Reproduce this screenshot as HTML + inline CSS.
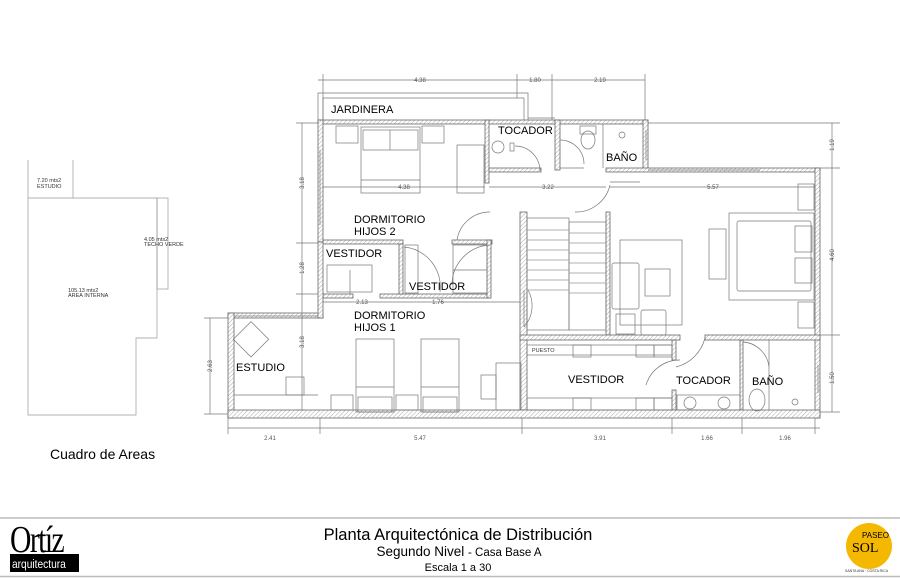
<!DOCTYPE html>
<html><head><meta charset="utf-8"><style>
html,body{margin:0;padding:0;background:#fff}
svg{display:block;font-family:"Liberation Sans",sans-serif}
</style></head><body>
<svg width="900" height="578" viewBox="0 0 900 578" xmlns="http://www.w3.org/2000/svg">
<defs>
<pattern id="h" width="3" height="3" patternUnits="userSpaceOnUse" patternTransform="rotate(45)">
<rect width="3" height="3" fill="#fff"/><line x1="0" y1="0" x2="0" y2="3" stroke="#aaa" stroke-width="1"/></pattern>
</defs>
<g fill="url(#h)" stroke="#666" stroke-width="0.8">
<rect x="318" y="120" width="237" height="4"/><rect x="555" y="120" width="93" height="4"/>
<rect x="318" y="120" width="5" height="122"/>
<rect x="485" y="120" width="4" height="63"/>
<rect x="555" y="120" width="5" height="50"/>
<rect x="643" y="120" width="5" height="50"/>
<rect x="489" y="168" width="52" height="4"/>
<rect x="606" y="168" width="214" height="4"/>
<rect x="815" y="168" width="5" height="250"/>
<rect x="606" y="212" width="4" height="123"/>
<rect x="520" y="212" width="7" height="198"/>
<rect x="323" y="240" width="80" height="4"/>
<rect x="452" y="240" width="40" height="4"/>
<rect x="323" y="294" width="30" height="4"/><rect x="380" y="294" width="110" height="4"/>
<rect x="399" y="244" width="4" height="50"/>
<rect x="487" y="240" width="4" height="58"/>
<rect x="228" y="313" width="95" height="5"/>
<rect x="318" y="242" width="5" height="76"/>
<rect x="228" y="313" width="6" height="105"/>
<rect x="520" y="335" width="160" height="5"/><rect x="705" y="335" width="115" height="5"/>
<rect x="672" y="340" width="4" height="20"/><rect x="672" y="390" width="4" height="20"/>
<rect x="740" y="340" width="3" height="70"/>
<rect x="228" y="410" width="592" height="8"/>
</g>
<g fill="none" stroke="#777" stroke-width="0.7">
<polyline points="318,120 318,93 528,93 528,120"/>
<polyline points="323,120 323,98 524,98 524,120"/>
<line x1="528" y1="118" x2="555" y2="118"/>
<line x1="318" y1="80" x2="645" y2="80"/>
<line x1="323" y1="74" x2="323" y2="122"/><line x1="517" y1="74" x2="517" y2="98"/><line x1="552" y1="74" x2="552" y2="120"/><line x1="645" y1="74" x2="645" y2="120"/>
<line x1="323" y1="187" x2="485" y2="187"/><line x1="489" y1="187" x2="606" y2="187"/><line x1="610" y1="187" x2="815" y2="187"/>
<line x1="302" y1="123" x2="302" y2="410"/><line x1="296" y1="123" x2="318" y2="123"/><line x1="296" y1="243" x2="318" y2="243"/><line x1="296" y1="294" x2="318" y2="294"/><line x1="296" y1="410" x2="305" y2="410"/>
<line x1="210" y1="318" x2="210" y2="414"/><line x1="204" y1="318" x2="228" y2="318"/><line x1="204" y1="414" x2="228" y2="414"/>
<line x1="323" y1="302" x2="520" y2="302"/>
<line x1="832" y1="123" x2="832" y2="412"/>
<line x1="648" y1="123" x2="840" y2="123"/><line x1="820" y1="168" x2="840" y2="168"/><line x1="820" y1="335" x2="840" y2="335"/><line x1="820" y1="412" x2="840" y2="412"/>
<line x1="228" y1="428" x2="820" y2="428"/>
<line x1="228" y1="418" x2="228" y2="434"/><line x1="320" y1="418" x2="320" y2="434"/><line x1="522" y1="418" x2="522" y2="434"/><line x1="672" y1="418" x2="672" y2="434"/><line x1="742" y1="418" x2="742" y2="434"/><line x1="815" y1="418" x2="815" y2="434"/>
<rect x="336" y="126" width="22" height="17"/><rect x="422" y="126" width="22" height="17"/>
<rect x="361" y="127" width="59" height="66"/><rect x="363" y="130" width="55" height="20"/><line x1="390" y1="130" x2="390" y2="150"/><line x1="361" y1="180" x2="420" y2="180"/>
<rect x="457" y="145" width="27" height="48"/>
<line x1="320" y1="150" x2="320" y2="225"/>
<circle cx="498" cy="147" r="6"/><rect x="510" y="143" width="4" height="8"/>
<path d="M515,146 A25,25 0 0 1 540,171"/>
<ellipse cx="588" cy="140" rx="7" ry="9"/><rect x="580" y="126" width="16" height="8"/>
<path d="M560,140 A24,24 0 0 1 584,164"/><line x1="560" y1="168" x2="584" y2="168"/>
<line x1="603" y1="124" x2="603" y2="168"/><circle cx="622" cy="135" r="3"/>
<line x1="646" y1="130" x2="646" y2="160"/>
<line x1="648" y1="170" x2="760" y2="170"/>
<path d="M490,212 A33,33 0 0 0 457,240"/>
<path d="M610,185 A35,35 0 0 1 575,212"/><line x1="610" y1="182" x2="640" y2="182"/>
<path d="M404,247 A40,40 0 0 1 440,292"/><line x1="350" y1="270" x2="350" y2="294"/>
<path d="M490,245 A40,40 0 0 0 452,285"/>
<path d="M528,290 A32,32 0 0 1 524,327"/><line x1="524" y1="290" x2="524" y2="327"/>
<rect x="327" y="265" width="45" height="27"/><rect x="405" y="245" width="13" height="48"/>
<rect x="453" y="245" width="34" height="48"/><line x1="453" y1="270" x2="487" y2="270"/>
<rect x="527" y="218" width="42" height="112"/><rect x="569" y="222" width="37" height="108"/>
<g stroke="#999"><line x1="527" y1="230" x2="569" y2="230"/><line x1="527" y1="240" x2="569" y2="240"/><line x1="527" y1="250" x2="569" y2="250"/><line x1="527" y1="260" x2="569" y2="260"/><line x1="527" y1="270" x2="569" y2="270"/><line x1="527" y1="280" x2="569" y2="280"/><line x1="527" y1="290" x2="569" y2="290"/>
<line x1="569" y1="233" x2="606" y2="233"/><line x1="569" y1="243" x2="606" y2="243"/><line x1="569" y1="253" x2="606" y2="253"/><line x1="569" y1="263" x2="606" y2="263"/><line x1="569" y1="273" x2="606" y2="273"/><line x1="569" y1="283" x2="606" y2="283"/><line x1="569" y1="293" x2="606" y2="293"/></g>
<rect x="729" y="213" width="85" height="87"/><rect x="737" y="221" width="74" height="70" rx="2"/>
<rect x="795" y="226" width="17" height="26"/><rect x="795" y="258" width="17" height="25"/>
<rect x="798" y="184" width="16" height="26"/><rect x="798" y="302" width="16" height="26"/>
<rect x="709" y="229" width="17" height="50"/>
<rect x="620" y="240" width="62" height="85"/><rect x="612" y="263" width="27" height="46" rx="2"/><rect x="645" y="269" width="25" height="27"/>
<rect x="616" y="314" width="19" height="20"/><rect x="641" y="310" width="25" height="25" rx="2"/>
<rect x="356" y="339" width="38" height="73"/><line x1="356" y1="387" x2="394" y2="387"/><rect x="358" y="397" width="34" height="15"/>
<rect x="421" y="339" width="38" height="73"/><line x1="421" y1="387" x2="459" y2="387"/><rect x="423" y="397" width="34" height="15"/>
<rect x="331" y="395" width="22" height="15"/><rect x="396" y="395" width="22" height="15"/>
<rect x="496" y="363" width="25" height="47"/><rect x="481" y="375" width="15" height="24"/>
<rect x="238" y="327" width="25" height="25" transform="rotate(45 251 340)"/>
<rect x="286" y="377" width="18" height="18"/><line x1="234" y1="395" x2="318" y2="395"/>
<line x1="234" y1="316" x2="318" y2="316"/>
<rect x="527" y="345" width="145" height="10"/><rect x="573" y="345" width="18" height="12"/><rect x="636" y="345" width="18" height="12"/><rect x="654" y="345" width="18" height="12"/>
<rect x="527" y="398" width="145" height="12"/><rect x="573" y="398" width="18" height="12"/><rect x="636" y="398" width="18" height="12"/><rect x="654" y="398" width="18" height="12"/>
<path d="M680,360 A35,35 0 0 0 646,385"/><path d="M705,338 A40,40 0 0 1 676,367"/>
<rect x="677" y="395" width="63" height="15"/><circle cx="690" cy="403" r="6"/><circle cx="724" cy="403" r="6"/>
<path d="M743,342 A28,28 0 0 1 769,367"/><line x1="769" y1="340" x2="769" y2="410"/>
<ellipse cx="757" cy="400" rx="8" ry="11"/><circle cx="795" cy="402" r="3"/>
<line x1="818" y1="365" x2="818" y2="393"/>
<g stroke="#999"><polyline points="28,160 28,415 136,415 136,338 157,338 157,198 28,198"/>
<line x1="73" y1="160" x2="73" y2="198"/><rect x="157" y="198" width="11" height="91"/></g>
<g stroke="#bbb" stroke-width="1.5"><line x1="0" y1="518" x2="900" y2="518"/><line x1="0" y1="576.5" x2="900" y2="576.5"/></g>
</g>
<g fill="#000" font-size="11">
<text x="331" y="113">JARDINERA</text>
<text x="498" y="134">TOCADOR</text>
<text x="606" y="161">BAÑO</text>
<text x="354" y="223">DORMITORIO</text><text x="354" y="235">HIJOS 2</text>
<text x="326" y="257">VESTIDOR</text>
<text x="409" y="290">VESTIDOR</text>
<text x="354" y="319">DORMITORIO</text><text x="354" y="331">HIJOS 1</text>
<text x="236" y="371">ESTUDIO</text>
<text x="568" y="383">VESTIDOR</text>
<text x="676" y="384">TOCADOR</text>
<text x="752" y="385">BAÑO</text>
</g>
<g fill="#555" font-size="6" text-anchor="middle">
<text x="420" y="82">4.38</text><text x="535" y="82">1.80</text><text x="600" y="82">2.19</text>
<text x="404" y="189">4.38</text><text x="548" y="189">3.22</text><text x="713" y="189">5.57</text>
<text x="362" y="304">2.13</text><text x="438" y="304">1.76</text>
<text x="270" y="440">2.41</text><text x="420" y="440">5.47</text><text x="600" y="440">3.91</text><text x="707" y="440">1.66</text><text x="785" y="440">1.96</text>
<text transform="translate(304,183) rotate(-90)">3.18</text><text transform="translate(304,268) rotate(-90)">1.28</text><text transform="translate(304,342) rotate(-90)">3.18</text>
<text transform="translate(212,366) rotate(-90)">2.63</text>
<text transform="translate(834,145) rotate(-90)">1.19</text><text transform="translate(834,255) rotate(-90)">4.60</text><text transform="translate(834,378) rotate(-90)">1.50</text>
</g>
<g fill="#333" font-size="5.5">
<text x="37" y="182">7.20 mts2</text><text x="37" y="188">ESTUDIO</text>
<text x="144" y="241">4.05 mts2</text><text x="144" y="246">TECHO VERDE</text>
<text x="68" y="292">105.13 mts2</text><text x="68" y="297">AREA INTERNA</text>
<text x="532" y="352">PUESTO</text>
</g>
<text x="50" y="459" font-size="14" fill="#000">Cuadro de Areas</text>
<text x="458" y="540" font-size="16.5" text-anchor="middle" fill="#000" transform="translate(458,0) scale(1,1) translate(-458,0)">Planta Arquitectónica de Distribución</text>
<text x="459" y="556" font-size="13.5" text-anchor="middle" fill="#000">Segundo Nivel <tspan font-size="11.5">- Casa Base A</tspan></text>
<text x="458" y="571" font-size="11" text-anchor="middle" fill="#000">Escala 1 a 30</text>
<text x="0" y="0" font-size="38" font-family="Liberation Serif,serif" fill="#000" letter-spacing="-2" transform="translate(10,552) scale(0.78,1)">Ortíz</text>
<rect x="10" y="554" width="69" height="18" fill="#000"/>
<text x="0" y="0" font-size="12" fill="#fff" transform="translate(12,568) scale(0.85,1)">arquitectura</text>
<circle cx="869" cy="546" r="23" fill="#f5b800"/>
<text x="852" y="552" font-size="14" font-family="Liberation Serif,serif" fill="#000">SOL</text>
<text x="862" y="538" font-size="8" fill="#000">PASEO</text>
<text x="845" y="572" font-size="3.5" fill="#333">SANTA ANA · COSTA RICA</text>
</svg>
</body></html>
